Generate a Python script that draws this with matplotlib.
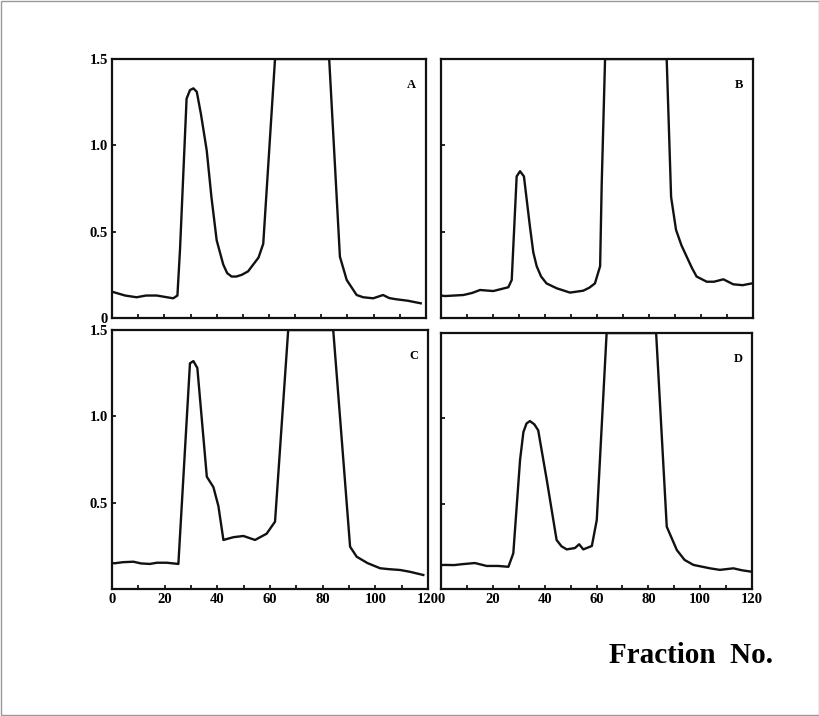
import matplotlib
matplotlib.use("Agg")
import matplotlib.pyplot as plt
from matplotlib.patches import Rectangle

# elution profiles (fraction no. vs absorbance)
a_x = [0, 0.5, 5, 9.4, 13, 17.1, 21, 23.4, 25.0, 26, 28.5, 29.8, 31.1, 32.4, 34, 36.2, 38, 40.0,
       42.5, 44, 45.7, 47.5, 49.6, 52, 54.0, 56, 57.8, 62.3, 83.0, 87.1, 89.7, 93.5, 96, 99.8, 103.6,
       106, 108.8, 113, 118]
a_y = [0.15, 0.15, 0.13, 0.12, 0.13, 0.13, 0.12, 0.114, 0.13, 0.40, 1.27, 1.32, 1.33, 1.31, 1.18,
       0.97, 0.70, 0.45, 0.31, 0.26, 0.24, 0.24, 0.25, 0.27, 0.31, 0.35, 0.43, 1.5, 1.5, 0.355, 0.22,
       0.133, 0.12, 0.114, 0.133, 0.115, 0.108, 0.10, 0.085]

b_x = [0, 1.5, 8.6, 12, 15.0, 20.1, 25.9, 27.2, 29.1, 30.4, 31.9, 34.2, 35.5, 36.8, 38.5, 40.6, 44.5,
       49.6, 54.7, 57, 59.2, 61.2, 61.8, 63.1, 86.8, 88.5, 90.4, 92.5, 94.5, 96.5, 98.3, 102.2, 105,
       108.6, 112.4, 116, 119.5]
b_y = [0.13, 0.127, 0.133, 0.145, 0.162, 0.156, 0.178, 0.22, 0.82, 0.85, 0.82, 0.53, 0.38, 0.30,
       0.24, 0.20, 0.172, 0.147, 0.158, 0.175, 0.20, 0.30, 0.77, 1.5, 1.5, 0.70, 0.51, 0.42, 0.355,
       0.29, 0.24, 0.21, 0.21, 0.224, 0.195, 0.19, 0.2]

c_x = [0, 1.1, 4, 8.1, 11, 14.4, 17, 20.8, 25.2, 29.6, 30.9, 32.4, 36.0, 38.5, 40.4, 42.3, 46.1,
       49.9, 54.3, 58.7, 61.9, 66.9, 84.0, 90.4, 92.9, 97, 101.8, 105, 109.4, 113, 118.2]
c_y = [0.15, 0.149, 0.155, 0.158, 0.148, 0.145, 0.152, 0.152, 0.145, 1.307, 1.32, 1.28, 0.65, 0.59,
       0.48, 0.284, 0.30, 0.307, 0.284, 0.32, 0.39, 1.5, 1.5, 0.245, 0.187, 0.15, 0.12, 0.115, 0.11,
       0.10, 0.081]

d_x = [0, 1.5, 5, 8.6, 13.1, 17.6, 22, 26.0, 27.9, 30.5, 31.8, 33, 34.3, 36, 37.5, 40.8, 44.6, 46.5,
       48.5, 51.7, 53.3, 54.9, 58.2, 60.1, 63.9, 83.0, 87.1, 91.0, 94, 97.4, 103.8, 107.6, 112.8,
       116, 119.9]
d_y = [0.14, 0.141, 0.14, 0.146, 0.152, 0.135, 0.135, 0.13, 0.209, 0.756, 0.92, 0.97, 0.984, 0.965,
       0.93, 0.64, 0.287, 0.25, 0.232, 0.24, 0.262, 0.232, 0.252, 0.404, 1.5, 1.5, 0.365, 0.228, 0.17,
       0.141, 0.121, 0.112, 0.121, 0.11, 0.101]

panel_labels = ["A", "B", "C", "D"]
x_ticks = [0, 20, 40, 60, 80, 100, 120]
y_ticks = [0, 0.5, 1.0, 1.5]

plt.rcParams["font.family"] = ["Liberation Serif", "DejaVu Serif"]
plt.rcParams["font.weight"] = "bold"

fig = plt.figure(figsize=(8.2, 7.16), dpi=100)
fig.patches.append(Rectangle((0.001, 0.001), 0.998, 0.998, transform=fig.transFigure,
                             fill=False, edgecolor="#999999", linewidth=1.0))

positions = [
    [0.1366, 0.5559, 0.3829, 0.3617],
    [0.5378, 0.5559, 0.3805, 0.3617],
    [0.1366, 0.1774, 0.3854, 0.3617],
    [0.5378, 0.1774, 0.3793, 0.3575],
]
series = [(a_x, a_y), (b_x, b_y), (c_x, c_y), (d_x, d_y)]

for i, (pos, (xs, ys)) in enumerate(zip(positions, series)):
    ax = fig.add_axes(pos)
    ax.plot(xs, ys, color="#111111", linewidth=1.7, solid_joinstyle="round", clip_on=True)
    ax.set_xlim(0, 120)
    ax.set_ylim(0, 1.5)
    for sp in ax.spines.values():
        sp.set_linewidth(1.6)
        sp.set_color("#111111")
    ax.set_xticks(x_ticks)
    ax.set_xticks(range(10, 120, 20), minor=True)
    ax.set_yticks(y_ticks)
    ax.tick_params(which="both", direction="in", length=3, width=1.2, labelsize=10.5, pad=3,
                   top=False, right=False)
    # only the outer panels carry numbers
    if i in (0, 1):
        ax.set_xticklabels([])
    else:
        ax.set_xticklabels([str(t) for t in x_ticks], fontweight="bold")
    if i == 0:
        ax.set_yticklabels(["0", "0.5", "1.0", "1.5"], fontweight="bold")
    elif i == 2:
        ax.set_yticklabels(["", "0.5", "1.0", "1.5"], fontweight="bold")
    else:
        ax.set_yticklabels([])
    ax.text(0.955, 0.9, panel_labels[i], transform=ax.transAxes, ha="center", va="center",
            fontsize=9, fontweight="bold")

fig.text(0.843, 0.085, "Fraction  No.", ha="center", va="center", fontsize=21, fontweight="bold")

fig.savefig("out.png", dpi=100, facecolor="white")
